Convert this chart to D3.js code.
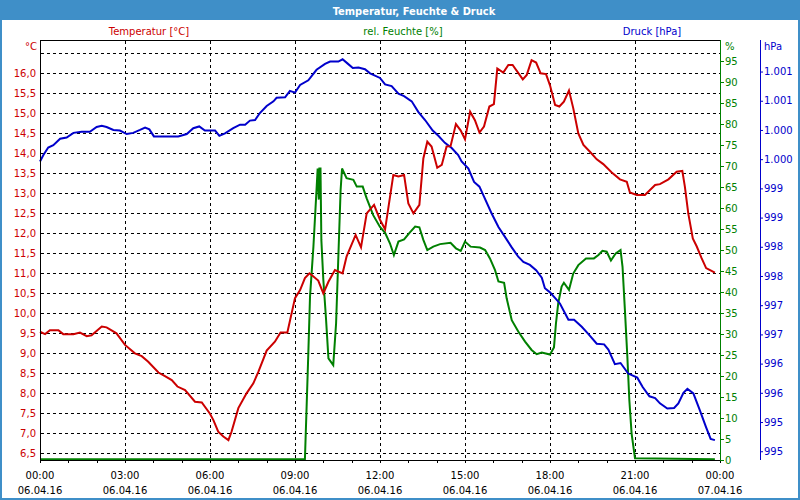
<!DOCTYPE html>
<html><head><meta charset="utf-8">
<script src="https://cdn.jsdelivr.net/npm/d3@7/dist/d3.min.js"></script>
<style>
body{margin:0;background:#fff}
svg{display:block}
text{font-family:"DejaVu Sans",sans-serif;font-size:10px}
</style>
</head><body>
<svg id="c" width="800" height="500"></svg>
<script>
const chartTitle = "Temperatur, Feuchte & Druck";
const seriesNames = ["Temperatur [°C]", "rel. Feuchte [%]", "Druck [hPa]"];
const timeLabels = ["00:00","03:00","06:00","09:00","12:00","15:00","18:00","21:00","00:00"];
const dateLabels = ["06.04.16","06.04.16","06.04.16","06.04.16","06.04.16","06.04.16","06.04.16","06.04.16","07.04.16"];
const tempTicks = [6.5,7,7.5,8,8.5,9,9.5,10,10.5,11,11.5,12,12.5,13,13.5,14,14.5,15,15.5,16];
const humTicks = [0,5,10,15,20,25,30,35,40,45,50,55,60,65,70,75,80,85,90,95];
const presTicks = [994.5,995,995.5,996,996.5,997,997.5,998,998.5,999,999.5,1000,1000.5,1001];

// [hour, °C]
const tempData = [
[0,9.54],[0.18,9.48],[0.35,9.58],[0.65,9.58],[0.82,9.48],[1.18,9.48],[1.41,9.52],[1.65,9.43],[1.82,9.45],
[2.18,9.67],[2.35,9.65],[2.7,9.5],[3.0,9.21],[3.35,9.0],[3.59,8.93],[3.82,8.79],[4.18,8.52],[4.41,8.43],
[4.65,8.33],[4.85,8.17],[5.12,8.08],[5.47,7.79],[5.71,7.77],[6.0,7.49],[6.12,7.33],[6.29,7.04],[6.47,6.92],
[6.65,6.83],[6.76,7.04],[7.0,7.63],[7.29,8.0],[7.53,8.25],[7.71,8.54],[8.0,9.07],[8.29,9.29],[8.49,9.52],
[8.73,9.52],[9.0,10.38],[9.18,10.58],[9.35,10.88],[9.51,11.0],[9.65,10.92],[9.82,10.82],[10.0,10.5],
[10.18,10.79],[10.41,11.08],[10.68,11.0],[10.82,11.42],[11.14,11.96],[11.33,11.65],[11.53,12.5],[11.79,12.71],
[12.0,12.34],[12.18,12.1],[12.47,13.46],[12.65,13.42],[12.85,13.46],[13.0,12.75],[13.18,12.5],[13.39,12.71],
[13.53,13.87],[13.67,14.29],[13.82,14.17],[14.02,13.64],[14.18,13.71],[14.35,14.17],[14.49,14.18],[14.68,14.73],
[14.85,14.57],[15.0,14.35],[15.18,15.04],[15.35,14.83],[15.51,14.52],[15.67,14.67],[15.86,15.17],[16.02,15.23],
[16.14,16.12],[16.35,16.02],[16.53,16.21],[16.68,16.21],[17.04,15.85],[17.18,15.96],[17.35,16.33],[17.51,16.27],
[17.67,16.0],[17.86,15.98],[18.0,15.7],[18.18,15.21],[18.33,15.17],[18.49,15.29],[18.67,15.57],[18.82,15.13],
[19.0,14.5],[19.18,14.21],[19.41,14.04],[19.65,13.85],[19.88,13.73],[20.18,13.52],[20.47,13.35],[20.71,13.29],
[20.82,13.02],[21.06,12.96],[21.35,12.96],[21.71,13.21],[21.88,13.23],[22.18,13.35],[22.47,13.54],[22.67,13.56],
[22.76,13.17],[22.88,12.5],[23.04,11.87],[23.18,11.67],[23.35,11.38],[23.51,11.13],[23.65,11.08],[23.82,11.02]
];

// [hour, %]
const humData = [
[0,0.2],[9.35,0.2],[9.41,12.7],[9.47,25.4],[9.53,38.9],[9.65,50.8],[9.74,61.9],[9.8,69.4],[9.84,62],[9.86,69.4],
[9.9,69.4],[9.93,52.4],[10.0,42.9],[10.09,34.1],[10.18,24.2],[10.35,22.6],[10.45,32.5],[10.53,48.4],
[10.61,64.3],[10.66,69.4],[10.82,67.1],[11.06,66.7],[11.18,65.1],[11.39,65.1],[11.53,62.3],[11.76,58.3],
[12.0,55.5],[12.18,54.1],[12.35,51.6],[12.49,48.8],[12.65,52.0],[12.85,52.5],[13.04,54.1],[13.24,55.6],
[13.39,55.4],[13.53,52.4],[13.67,50.0],[13.88,50.8],[14.12,51.4],[14.49,51.7],[14.68,50.4],[14.85,49.8],
[15.0,52.0],[15.2,50.8],[15.53,50.6],[15.71,50.0],[15.88,48.0],[16.06,45.2],[16.18,42.5],[16.38,42.2],
[16.47,38.5],[16.65,33.3],[16.88,30.6],[17.12,28.2],[17.35,26.2],[17.53,25.2],[17.71,25.6],[18.0,25.1],
[18.14,26.8],[18.21,32.5],[18.29,37.3],[18.41,41.3],[18.49,42.2],[18.67,40.5],[18.82,44.4],[19.0,46.4],
[19.27,48.0],[19.55,48.0],[19.71,48.8],[19.85,49.8],[20.0,49.6],[20.15,47.5],[20.32,49.2],[20.49,50.0],
[20.56,46.0],[20.65,34.9],[20.73,24.6],[20.8,14.3],[20.88,6.3],[21.0,0.4],[23.82,0.2]
];

// [hour, hPa]
const presData = [
[0,999.46],[0.12,999.57],[0.29,999.7],[0.47,999.74],[0.71,999.85],[0.94,999.87],[1.18,999.95],[1.47,999.97],
[1.76,999.97],[2.0,1000.05],[2.18,1000.07],[2.35,1000.05],[2.59,1000.0],[2.82,999.99],[3.06,999.93],[3.29,999.95],
[3.53,1000.0],[3.71,1000.04],[3.86,1000.01],[4.02,999.89],[4.47,999.89],[4.88,999.89],[5.18,999.93],[5.41,1000.03],
[5.62,1000.06],[5.82,999.99],[6.0,999.99],[6.18,999.99],[6.33,999.9],[6.53,999.94],[6.82,1000.03],[7.06,1000.09],
[7.24,1000.09],[7.41,1000.16],[7.59,1000.17],[7.76,1000.29],[8.0,1000.41],[8.24,1000.49],[8.35,1000.55],
[8.65,1000.56],[8.82,1000.67],[9.0,1000.64],[9.18,1000.77],[9.47,1000.85],[9.76,1001.03],[10.06,1001.13],
[10.24,1001.17],[10.53,1001.17],[10.68,1001.21],[10.85,1001.14],[11.04,1001.06],[11.24,1001.07],[11.47,1001.04],
[11.65,1000.97],[12.0,1000.89],[12.18,1000.78],[12.41,1000.75],[12.65,1000.62],[12.85,1000.58],[13.12,1000.49],
[13.35,1000.31],[13.59,1000.17],[13.86,999.99],[14.06,999.9],[14.29,999.78],[14.53,999.69],[14.76,999.57],
[14.88,999.46],[15.12,999.34],[15.32,999.11],[15.51,999.03],[15.67,998.86],[15.94,998.57],[16.18,998.34],
[16.41,998.17],[16.65,997.99],[16.88,997.83],[17.06,997.74],[17.29,997.69],[17.51,997.6],[17.71,997.47],
[17.82,997.29],[18.0,997.22],[18.35,997.03],[18.65,996.75],[18.85,996.75],[19.12,996.63],[19.35,996.51],
[19.65,996.34],[19.91,996.33],[20.06,996.24],[20.29,995.99],[20.49,996.01],[20.76,995.83],[21.08,995.76],
[21.27,995.6],[21.51,995.44],[21.71,995.41],[21.88,995.32],[22.14,995.23],[22.38,995.24],[22.53,995.32],
[22.71,995.5],[22.85,995.57],[23.06,995.49],[23.29,995.2],[23.51,994.91],[23.67,994.71],[23.82,994.69]
];

const RED = "#cc0000", GREEN = "#008000", BLUE = "#0000cc", BAR = "#3f8fc8";
const L = 40, R = 720, T = 40, B = 460;
const svg = d3.select("#c");

const x = d3.scaleLinear().domain([0, 24]).range([L, R]);
const yT = d3.scaleLinear().domain([6.3333, 16.8333]).range([B, T]);
const yH = d3.scaleLinear().domain([0, 100]).range([B, T]);
const yP = d3.scaleLinear().domain([994.35, 1001.54]).range([B, T]);

// background & frame
svg.append("rect").attr("x",0).attr("y",0).attr("width",800).attr("height",500).attr("fill","#fff");
svg.append("rect").attr("x",0).attr("y",0).attr("width",800).attr("height",20).attr("fill",BAR);
svg.append("rect").attr("x",1).attr("y",1).attr("width",798).attr("height",498)
  .attr("fill","none").attr("stroke",BAR).attr("stroke-width",2);
svg.append("text").attr("x",414).attr("y",14.5).attr("text-anchor","middle")
  .attr("fill","#fff").style("font-weight","bold").style("font-size","11px")
  .style("font-family","'DejaVu Sans Condensed','DejaVu Sans',sans-serif").text(chartTitle);

// legend labels
const legendX = [149, 403, 652];
const legendC = [RED, GREEN, BLUE];
seriesNames.forEach((n,i)=>{
  svg.append("text").attr("x",legendX[i]).attr("y",35).attr("text-anchor","middle")
    .attr("fill",legendC[i]).text(n);
});

// grid
const grid = svg.append("g").attr("stroke","#000").attr("stroke-width",1).attr("stroke-dasharray","3,3").attr("shape-rendering","crispEdges");
tempTicks.concat([16.5]).forEach(v=>{
  grid.append("line").attr("x1",L+1).attr("x2",R).attr("y1",Math.round(yT(v))+0.5).attr("y2",Math.round(yT(v))+0.5);
});
d3.range(3,24,3).forEach(h=>{
  grid.append("line").attr("x1",Math.round(x(h))+0.5).attr("x2",Math.round(x(h))+0.5).attr("y1",T+1).attr("y2",B);
});

// series
const line = (ys)=> d3.line().x(d=>x(d[0])).y(d=>ys(d[1]));
svg.append("path").datum(humData).attr("d",line(yH)).attr("fill","none").attr("stroke",GREEN).attr("stroke-width",2);
svg.append("path").datum(presData).attr("d",line(yP)).attr("fill","none").attr("stroke",BLUE).attr("stroke-width",2);
svg.append("path").datum(tempData).attr("d",line(yT)).attr("fill","none").attr("stroke",RED).attr("stroke-width",2);

// frame lines
const fr = svg.append("g").attr("shape-rendering","crispEdges").attr("stroke","#000");
fr.append("line").attr("x1",L+0.5).attr("x2",L+0.5).attr("y1",T).attr("y2",B+1);
fr.append("line").attr("x1",L).attr("x2",R).attr("y1",T+0.5).attr("y2",T+0.5);
fr.append("line").attr("x1",L).attr("x2",R).attr("y1",B+0.5).attr("y2",B+0.5);

// x axis ticks (hourly)
const xa = svg.append("g").attr("transform",`translate(0,${B})`)
  .call(d3.axisBottom(x).tickValues(d3.range(0,25,1)).tickSize(3).tickFormat(""));
xa.select(".domain").remove();
xa.selectAll("line").attr("stroke","#000").attr("shape-rendering","crispEdges");
timeLabels.forEach((t,i)=>{
  svg.append("text").attr("x",x(i*3)).attr("y",479).attr("text-anchor","middle").attr("fill","#000").text(t);
  svg.append("text").attr("x",x(i*3)).attr("y",494).attr("text-anchor","middle").attr("fill","#000").text(dateLabels[i]);
});

// left axis
const fmtT = v => d3.format(".1f")(v).replace(".", ",");
const la = svg.append("g").attr("transform",`translate(${L},0)`)
  .call(d3.axisLeft(yT).tickValues(tempTicks).tickSize(0).tickPadding(4).tickFormat(fmtT));
la.select(".domain").remove();
la.selectAll("text").attr("fill",RED).style("font-family","'DejaVu Sans',sans-serif").style("font-size","10px");
svg.append("text").attr("x",37).attr("y",50).attr("text-anchor","end").attr("fill",RED).text("°C");

// humidity axis
const ha = svg.append("g").attr("transform",`translate(${R},0)`)
  .call(d3.axisRight(yH).tickValues(humTicks).tickSize(4).tickPadding(1).tickFormat(d3.format("d")));
ha.select(".domain").attr("stroke",GREEN).attr("d",`M0.5,${T}V${B+1}`);
ha.selectAll("line").attr("stroke",GREEN);
ha.selectAll("text").attr("fill",GREEN).style("font-family","'DejaVu Sans',sans-serif").style("font-size","10px");
svg.append("text").attr("x",725).attr("y",50).attr("fill",GREEN).text("%");

// pressure axis
const fmtP = v => { const r = Math.round(v); return r >= 1000 ? d3.format(",")(r).replace(",", ".") : String(r); };
const pa = svg.append("g").attr("transform",`translate(760,0)`)
  .call(d3.axisRight(yP).tickValues(presTicks).tickSize(3).tickPadding(1).tickFormat(fmtP));
pa.select(".domain").attr("stroke",BLUE).attr("d",`M0.5,${T}V${B}`);
pa.selectAll("line").attr("stroke",BLUE);
pa.selectAll("text").attr("fill",BLUE).style("font-family","'DejaVu Sans',sans-serif").style("font-size","10px");
svg.append("text").attr("x",764).attr("y",50).attr("fill",BLUE).text("hPa");
</script>
</body></html>
